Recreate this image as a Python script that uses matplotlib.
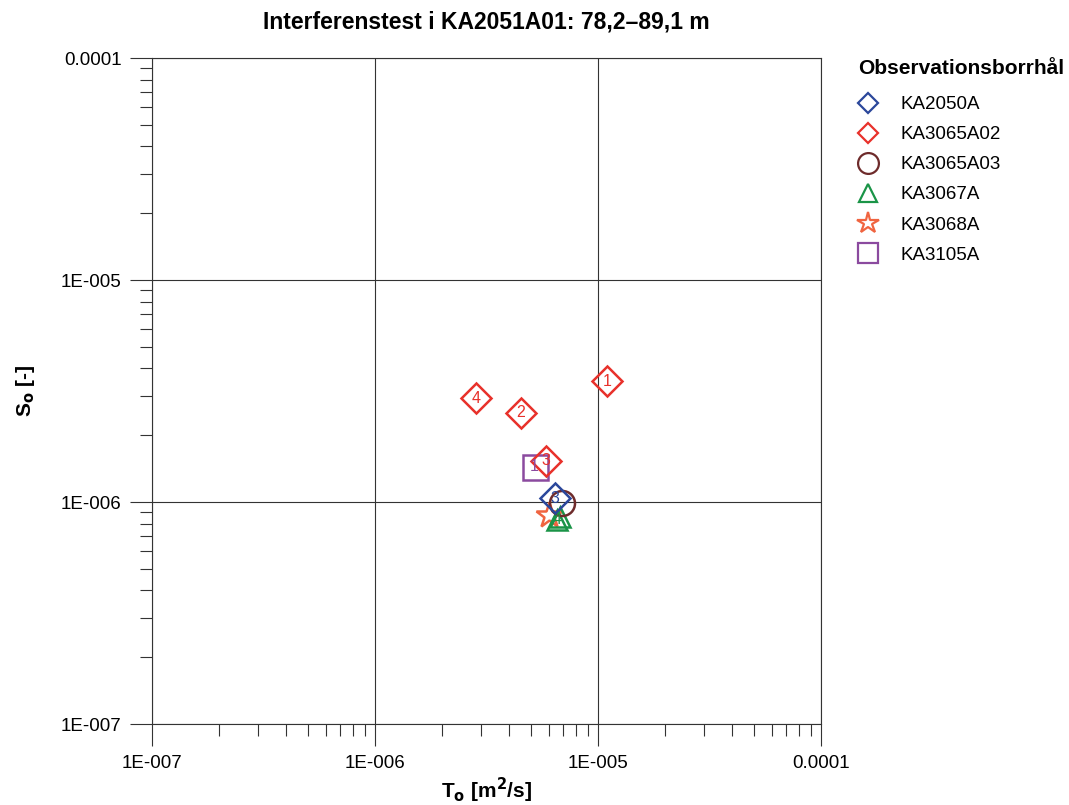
import matplotlib
matplotlib.use("Agg")
import matplotlib.pyplot as plt
from matplotlib.lines import Line2D
from matplotlib.ticker import LogLocator, FixedLocator, NullFormatter

plt.rcParams.update({
    'font.family': 'sans-serif',
    'font.sans-serif': ['Liberation Sans', 'Arial', 'DejaVu Sans'],
    'font.size': 13,
})

# Data (T in m2/s, S dimensionless)
wells = ['KA2050A', 'KA3065A02', 'KA3065A03', 'KA3067A', 'KA3068A', 'KA3105A']
t_ka2050a = [6.4e-6]
s_ka2050a = [1.04e-6]
n_ka2050a = ['3']
t_ka3065a02 = [1.10e-5, 4.5e-6, 5.85e-6, 2.84e-6]
s_ka3065a02 = [3.5e-6, 2.52e-6, 1.53e-6, 2.94e-6]
n_ka3065a02 = ['1', '2', '3', '4']
t_ka3065a03 = [6.9e-6]
s_ka3065a03 = [9.9e-7]
n_ka3065a03 = ['']
t_ka3067a = [6.75e-6, 6.55e-6]
s_ka3067a = [8.6e-7, 8.3e-7]
n_ka3067a = ['', '4']
t_ka3068a = [6.0e-6]
s_ka3068a = [8.7e-7]
n_ka3068a = ['']
t_ka3105a = [5.2e-6]
s_ka3105a = [1.44e-6]
n_ka3105a = ['1']

# marker, colour, size in plot, size in legend
styles = [
    ('D', '#2b479b', 15, 10.5),
    ('D', '#e8312b', 15, 10.5),
    ('o', '#6e2b2b', 18, 15),
    ('^', '#1a9447', 15, 13),
    ('*', '#f06440', 19, 16),
    ('s', '#8b4a9f', 18, 15),
]
series = [
    (t_ka2050a, s_ka2050a, n_ka2050a),
    (t_ka3065a02, s_ka3065a02, n_ka3065a02),
    (t_ka3065a03, s_ka3065a03, n_ka3065a03),
    (t_ka3067a, s_ka3067a, n_ka3067a),
    (t_ka3068a, s_ka3068a, n_ka3068a),
    (t_ka3105a, s_ka3105a, n_ka3105a),
]

fig = plt.figure(figsize=(10.69, 8.05), dpi=100)
ax = fig.add_axes([152 / 1069, 1 - 724 / 805, 669 / 1069, 666 / 805])

ax.set_xscale('log')
ax.set_yscale('log')
ax.set_xlim(1e-7, 1e-4)
ax.set_ylim(1e-7, 1e-4)

# draw order: back to front roughly as in the picture
order = [5, 1, 4, 3, 2, 0]
for i in order:
    t, s, nums = series[i]
    marker, color, ms, _ = styles[i]
    ax.plot(t, s, linestyle='none', marker=marker, markersize=ms,
            markerfacecolor='none', markeredgecolor=color, markeredgewidth=1.8,
            zorder=3)
    for x, y, n in zip(t, s, nums):
        if n:
            ax.text(x, y, n, color=color, fontsize=11.5, ha='center', va='center', zorder=4)

# Axis ticks
ax.xaxis.set_major_locator(FixedLocator([1e-7, 1e-6, 1e-5, 1e-4]))
ax.yaxis.set_major_locator(FixedLocator([1e-7, 1e-6, 1e-5, 1e-4]))
ax.xaxis.set_minor_locator(LogLocator(base=10, subs=range(2, 10)))
ax.yaxis.set_minor_locator(LogLocator(base=10, subs=range(2, 10)))
ax.xaxis.set_minor_formatter(NullFormatter())
ax.yaxis.set_minor_formatter(NullFormatter())
ax.set_xticklabels(['1E-007', '1E-006', '1E-005', '0.0001'])
ax.set_yticklabels(['1E-007', '1E-006', '1E-005', '0.0001'])
ax.tick_params(which='major', direction='out', length=16, width=0.8, color='#333333',
               labelsize=13.5, pad=6)
ax.tick_params(which='minor', direction='out', length=8.5, width=0.8, color='#333333')

ax.grid(True, which='major', color='#333333', linewidth=0.8)
for sp in ax.spines.values():
    sp.set_color('#333333')
    sp.set_linewidth(0.8)
ax.set_axisbelow(True)

ax.set_title('Interferenstest i KA2051A01: 78,2–89,1 m', fontsize=16.5,
             fontweight='bold', pad=21)
ax.set_xlabel(r'T$_\mathbf{o}$ [m$^\mathbf{2}$/s]', fontsize=15, fontweight='bold')
ax.set_ylabel(r'S$_\mathbf{o}$ [-]', fontsize=15, fontweight='bold')
ax.xaxis.set_label_coords(0.5, -0.078)
ax.yaxis.set_label_coords(-0.172, 0.5)

# Legend (title drawn separately so the gap below it matches)
fig.text(858 / 1069, 1 - 68 / 805, 'Observationsborrhål', fontsize=15,
         fontweight='bold', ha='left', va='center')
legend_handles = []
for name, (marker, color, _, lms) in zip(wells, styles):
    legend_handles.append(Line2D([], [], linestyle='none', marker=marker,
                                 markersize=lms, markerfacecolor='none',
                                 markeredgecolor=color, markeredgewidth=1.6,
                                 label=name))
leg = fig.legend(handles=legend_handles, loc='upper left',
                 bbox_to_anchor=(842 / 1069, 1 - 83 / 805), frameon=False,
                 fontsize=13.5, labelspacing=0.69,
                 handletextpad=1.0, borderpad=0.2, handlelength=1.4)

fig.savefig('out.png', dpi=100)
